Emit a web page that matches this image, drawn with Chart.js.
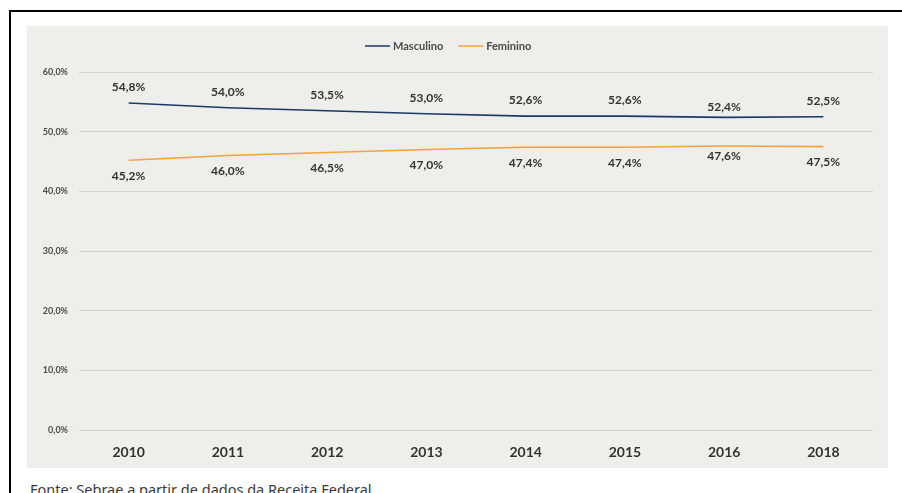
<!DOCTYPE html>
<html>
<head>
<meta charset="utf-8">
<script src="https://cdn.jsdelivr.net/npm/chart.js@4.4.1/dist/chart.umd.min.js"></script>
<style>
  html, body { margin: 0; padding: 0; background: #fff; }
  body { width: 902px; height: 493px; position: relative; overflow: hidden; }
  #frame { position: absolute; left: 9px; top: 10px; width: 900px; height: 500px;
           border-top: 2px solid #000; border-left: 2px solid #000; }
  #panel { position: absolute; left: 27px; top: 26px; width: 861px; height: 442px; background: #EEEFED; }
  #fonte { position: absolute; left: 30px; top: 479px; font: 14.5px "Noto Sans", sans-serif; color: #3a3a3a; }
</style>
</head>
<body>
<div id="frame"></div>
<div id="panel"><canvas id="grafico" width="861" height="442"></canvas></div>
<div id="fonte">Fonte: Sebrae a partir de dados da Receita Federal</div>
<script>
const anos = ["2010", "2011", "2012", "2013", "2014", "2015", "2016", "2018"];
const masculino = [54.8, 54.0, 53.5, 53.0, 52.6, 52.6, 52.4, 52.5];
const feminino = [45.2, 46.0, 46.5, 47.0, 47.4, 47.4, 47.6, 47.5];
const ticksY = [0, 10, 20, 30, 40, 50, 60];

const corMasc = "#1F3864";
const corFem = "#F5A33A";
const corTexto = "#333333";

function pct(v) {
    return v.toFixed(1).replace(".", ",") + "%";
}

// rótulos de dados e legenda desenhados à mão
const rotulos = {
    id: "rotulos",
    afterDatasetsDraw(chart) {
        const ctx = chart.ctx;
        ctx.save();
        ctx.font = "bold 12px Lato, sans-serif";
        ctx.fillStyle = corTexto;
        ctx.textAlign = "center";
        ctx.textBaseline = "middle";
        chart.data.datasets.forEach((ds, i) => {
            const meta = chart.getDatasetMeta(i);
            meta.data.forEach((pt, j) => {
                // o ponto de 2016 tem rótulo mais perto da linha
                const dist = j === 6 ? 10 : 16;
                const y = i === 0 ? pt.y - dist : pt.y + dist;
                ctx.fillText(pct(ds.data[j]), pt.x, y);
            });
        });

        // legenda
        ctx.font = "bold 11px Lato, sans-serif";
        ctx.fillStyle = "#4a4a4a";
        ctx.textAlign = "left";
        const yLeg = 20;
        let x = 338;
        chart.data.datasets.forEach((ds) => {
            ctx.strokeStyle = ds.borderColor;
            ctx.lineWidth = 1.5;
            ctx.beginPath();
            ctx.moveTo(x, yLeg);
            ctx.lineTo(x + 25, yLeg);
            ctx.stroke();
            ctx.fillText(ds.label, x + 28, yLeg);
            x += 28 + ctx.measureText(ds.label).width + 15;
        });
        ctx.restore();
    }
};

new Chart(document.getElementById("grafico").getContext("2d"), {
    type: "line",
    data: {
        labels: anos,
        datasets: [
            {
                label: "Masculino",
                data: masculino,
                borderColor: corMasc,
                backgroundColor: corMasc,
                borderWidth: 1.6,
                pointRadius: 0,
                tension: 0
            },
            {
                label: "Feminino",
                data: feminino,
                borderColor: corFem,
                backgroundColor: corFem,
                borderWidth: 1.6,
                pointRadius: 0,
                tension: 0
            }
        ]
    },
    options: {
        responsive: false,
        animation: false,
        layout: { padding: { top: 46, right: 15, left: 0, bottom: 0 } },
        plugins: {
            legend: { display: false },
            tooltip: { enabled: false }
        },
        scales: {
            x: {
                offset: true,
                grid: { display: false },
                border: { display: false },
                ticks: {
                    padding: 6,
                    color: corTexto,
                    font: { family: "Lato, sans-serif", size: 14, weight: "bold" }
                },
                afterFit: (s) => { s.height = 38; }
            },
            y: {
                min: 0,
                max: 60,
                afterBuildTicks: (s) => { s.ticks = ticksY.map(v => ({ value: v })); },
                grid: { color: "#D3D3D3", lineWidth: 1, drawTicks: false },
                border: { display: false },
                ticks: {
                    padding: 11,
                    color: "#4a4a4a",
                    font: { family: "Lato, sans-serif", size: 9, weight: "bold" },
                    callback: (v) => pct(v)
                },
                afterFit: (s) => { s.width = 52; }
            }
        }
    },
    plugins: [rotulos]
});
</script>
</body>
</html>
